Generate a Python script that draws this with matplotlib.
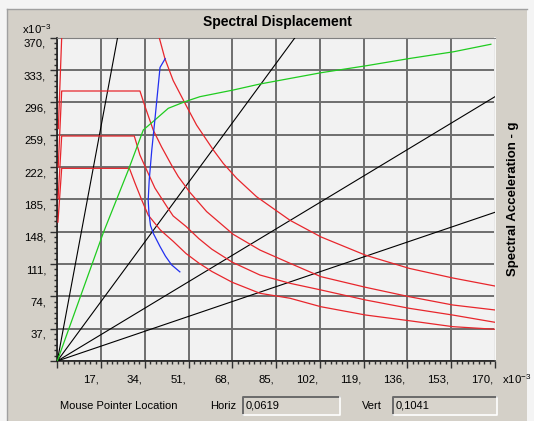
import matplotlib
matplotlib.use("Agg")
import matplotlib.pyplot as plt
import matplotlib.transforms as mtransforms
from matplotlib.patches import Rectangle
from matplotlib.lines import Line2D
import numpy as np

plt.rcParams['font.family'] = ['Liberation Sans', 'DejaVu Sans']
plt.rcParams['mathtext.fontset'] = 'custom'
plt.rcParams['mathtext.rm'] = 'Liberation Sans'
plt.rcParams['mathtext.default'] = 'rm'

# ---- datos (unidades x10^-3) ----
x_ticks = [0, 17, 34, 51, 68, 85, 102, 119, 136, 153, 170]
y_ticks = [0, 37, 74, 111, 148, 185, 222, 259, 296, 333, 370]

# lineas de periodo constante (desde el origen)
period_end_x = [23.4, 92.3, 170, 170]
period_end_y = [370, 370, 302.5, 170.2]

# curva de capacidad (verde)
cap_x = [0, 17.9, 27.6, 33.4, 37.9, 43.1, 49.6, 55.4, 68.3, 78.7, 102.6, 120, 137, 153.9, 168.4]
cap_y = [0, 147, 218.6, 264.4, 275.8, 289.2, 296.8, 302.5, 310.1, 317, 330, 337.9, 346.3, 353.9, 362.5]

# curva azul
blue_x = [41.9, 39.9, 37.9, 36.7, 35.7, 35.3, 35.6, 36.2, 37.3, 39.9, 42.0, 44.4, 47.6]
blue_y = [346, 336, 276, 241.5, 207, 184, 169, 155, 146, 131, 120, 110, 102]

# espectros de demanda (rojo)
red1_x = [0.4, 1.7, np.nan, 39.6, 41.8, 45, 50.3, 54.1, 60.6, 64.5, 69.7, 77.4, 90.4, 102.4, 119.8, 136.7, 153.6, 170]
red1_y = [266, 370, np.nan, 370, 346, 321, 291, 270, 241.5, 226, 209, 188, 161, 142, 121, 106, 95, 85.8]
red2_x = [0.35, 1.7, 32.1, 34.1, 37.3, 40.5, 44.4, 47, 51.5, 58, 68.3, 78.7, 90.4, 102.4, 119.8, 136.7, 153.6, 170]
red2_y = [222, 309, 309, 291, 264, 245, 224, 211, 193, 171, 145, 127, 111.8, 96.5, 84.3, 73.6, 64.1, 58.4]
red3_x = [0.3, 1.7, 29.9, 32.1, 34.7, 37.9, 42.5, 45, 50, 55, 60, 68, 78.7, 90.4, 102.4, 119.8, 136.7, 153.6, 170]
red3_y = [186, 257.5, 257.5, 235.7, 218.6, 198, 177, 166, 154, 140, 128, 113, 98.4, 88.9, 81.3, 69.8, 60.3, 52.6, 44.3]
red4_x = [0.25, 1.7, 28, 30.2, 32.8, 35.3, 40, 45, 50, 55, 60, 68, 78.7, 90.4, 102.4, 119.8, 136.7, 153.6, 170]
red4_y = [159, 220.5, 220.5, 203.4, 184.2, 167, 150, 137, 123, 112, 102.5, 90, 77.5, 71.8, 62.1, 52.6, 46.1, 39.3, 36.3]

horiz_txt = '0,0619'
vert_txt = '0,1041'

W, H = 534, 421
BEIGE = '#d4d0c8'


def fx(px):
    return px / W


def fy(py):
    return 1 - py / H


fig = plt.figure(figsize=(W / 100, H / 100), dpi=100)
fig.patch.set_facecolor('#f4f4f4')

# panel de la ventana
fig.patches.append(Rectangle((fx(7), 0), fx(527) - fx(7), fy(9), transform=fig.transFigure,
                             facecolor=BEIGE, edgecolor='none', zorder=-5))
fig.lines.append(Line2D([fx(7), fx(527)], [fy(9), fy(9)], transform=fig.transFigure, color='#a0a0a0', lw=1, zorder=-4))
fig.lines.append(Line2D([fx(7), fx(7)], [0, fy(9)], transform=fig.transFigure, color='#a0a0a0', lw=1, zorder=-4))

ax = fig.add_axes([fx(57.3), fy(361), fx(495) - fx(57.3), fy(37.7) - fy(361)])
ax.set_zorder(3)
ax.set_facecolor('#f2f2f2')
ax.set_xlim(0, 170)
ax.set_ylim(0, 370)

ax.set_xticks(x_ticks, [''] + ['%d,' % v for v in x_ticks[1:]])
ax.set_yticks(y_ticks, [''] + ['%d,' % v for v in y_ticks[1:]])
ax.set_xticks(np.arange(0, 170.01, 17 / 8), minor=True)
ax.set_yticks(np.arange(0, 370.01, 37 / 6), minor=True)
ax.tick_params(which='major', length=5, width=1, color='#303030', labelsize=8.2, pad=3)
ax.tick_params(which='minor', length=2.5, width=1, color='#303030')
ax.grid(True, which='major', color='#6e6e6e', lw=1.4)
ax.set_axisbelow(True)

for lab in ax.get_xticklabels():
    lab.set_horizontalalignment('right')
    lab.set_transform(lab.get_transform() + mtransforms.ScaledTranslation(-2 / 100, -2 / 100, fig.dpi_scale_trans))
for lab in ax.get_yticklabels():
    lab.set_transform(lab.get_transform() + mtransforms.ScaledTranslation(0, -5 / 100, fig.dpi_scale_trans))

for s in ['left', 'bottom']:
    ax.spines[s].set_color('#202020')
    ax.spines[s].set_linewidth(1.2)
ax.spines['top'].set_color('#808080')
ax.spines['right'].set_color('#ffffff')
ax.spines['right'].set_linewidth(1.2)

# lineas de periodo
for ex, ey in zip(period_end_x, period_end_y):
    ax.plot([0, ex], [0, ey], color='black', lw=0.8, zorder=3)

for rx, ry in [(red1_x, red1_y), (red2_x, red2_y), (red3_x, red3_y), (red4_x, red4_y)]:
    ax.plot(rx, ry, color='#e8262c', lw=0.9, zorder=4)

ax.plot(cap_x, cap_y, color='#1fcc1f', lw=0.9, zorder=5)
ax.plot(blue_x, blue_y, color='#2230f0', lw=0.9, zorder=5)

# titulos
fig.text(fx(277), fy(22), 'Spectral Displacement', ha='center', va='center', fontsize=10, fontweight='bold')
fig.text(fx(513), fy(199), 'Spectral Acceleration - g', ha='center', va='center', rotation=90,
         fontsize=9.5, fontweight='bold')
fig.text(fx(22), fy(29), 'x10$^{-3}$', ha='left', va='center', fontsize=8.2)
fig.text(fx(502), fy(379), 'x10$^{-3}$', ha='left', va='center', fontsize=8.2)

# panel inferior
fig.text(fx(60), fy(406), 'Mouse Pointer Location', ha='left', va='center', fontsize=8)
fig.text(fx(210), fy(406), 'Horiz', ha='left', va='center', fontsize=8)
fig.text(fx(362), fy(406), 'Vert', ha='left', va='center', fontsize=8)


def caja(x0, x1, y0, y1, txt):
    fig.patches.append(Rectangle((fx(x0), fy(y1)), fx(x1) - fx(x0), fy(y0) - fy(y1), transform=fig.transFigure,
                                 facecolor='#d8d4cc', edgecolor='none', zorder=1))
    fig.lines.append(Line2D([fx(x0), fx(x0), fx(x1)], [fy(y1), fy(y0), fy(y0)], transform=fig.transFigure,
                            color='#6a6a6a', lw=1.4))
    fig.lines.append(Line2D([fx(x0), fx(x1), fx(x1)], [fy(y1), fy(y1), fy(y0)], transform=fig.transFigure,
                            color='#ffffff', lw=1.2))
    fig.text(fx(x0 + 3), fy((y0 + y1) / 2), txt, ha='left', va='center', fontsize=8)


caja(243, 340, 397, 415, horiz_txt)
caja(393, 497, 397, 415, vert_txt)

fig.savefig('out.png', dpi=100, facecolor=fig.get_facecolor())
